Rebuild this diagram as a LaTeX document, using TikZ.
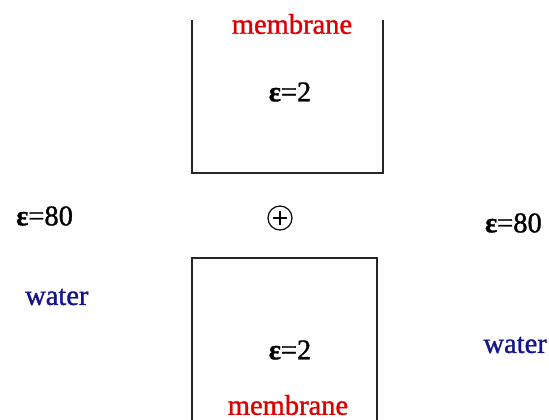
\documentclass[tikz,border=0pt]{standalone}
\usepackage{fontspec}
\setmainfont[FakeBold=1.2]{Liberation Serif}
\usetikzlibrary{calc}
\begin{document}
\begin{tikzpicture}[x=1pt,y=-1pt,
  wall/.style={line width=1.3pt, draw=black!85},
  lbl/.style={inner sep=0pt, font=\fontsize{28.5}{32}\selectfont},
  red/.style={lbl, text={rgb,255:red,220;green,0;blue,0}},
  blue/.style={lbl, text={rgb,255:red,20;green,20;blue,140}}]
\useasboundingbox (0,0) rectangle (549,420);
% top membrane box (open top)
\coordinate (t1) at (192,20);
\coordinate (t2) at (192,173);
\coordinate (t3) at (383,173);
\coordinate (t4) at (383,20);
\draw[wall] (t1) -- (t2) -- (t3) -- (t4);
% bottom membrane box (open bottom)
\coordinate (b1) at (192,420);
\coordinate (b2) at (192,258);
\coordinate (b3) at (377,258);
\coordinate (b4) at (377,420);
\draw[wall] (b1) -- (b2) -- (b3) -- (b4);
\node[red] (mtop) at (292,24) {membrane};
\node[lbl] (etop) at (290,92) {\textbf{ε}=2};
\node[lbl] (ebot) at (290,350) {\textbf{ε}=2};
\node[red] (mbot) at (288,405) {membrane};
\node[lbl,anchor=west] (el) at (16,216) {\textbf{ε}=80};
\node[lbl,anchor=east] (er) at (542,223) {\textbf{ε}=80};
\node[blue,anchor=west] (wl) at (25,297) {water};
\node[blue,anchor=east] (wr) at (547,345) {water};
\node[draw, circle, line width=1.2pt, minimum size=24pt, inner sep=0pt] (ion) at (280,218) {};
\draw[line width=1.5pt] ($(ion.center)+(-7,0)$) -- ($(ion.center)+(7,0)$);
\draw[line width=1.5pt] ($(ion.center)+(0,-7)$) -- ($(ion.center)+(0,7)$);
\end{tikzpicture}
\end{document}
